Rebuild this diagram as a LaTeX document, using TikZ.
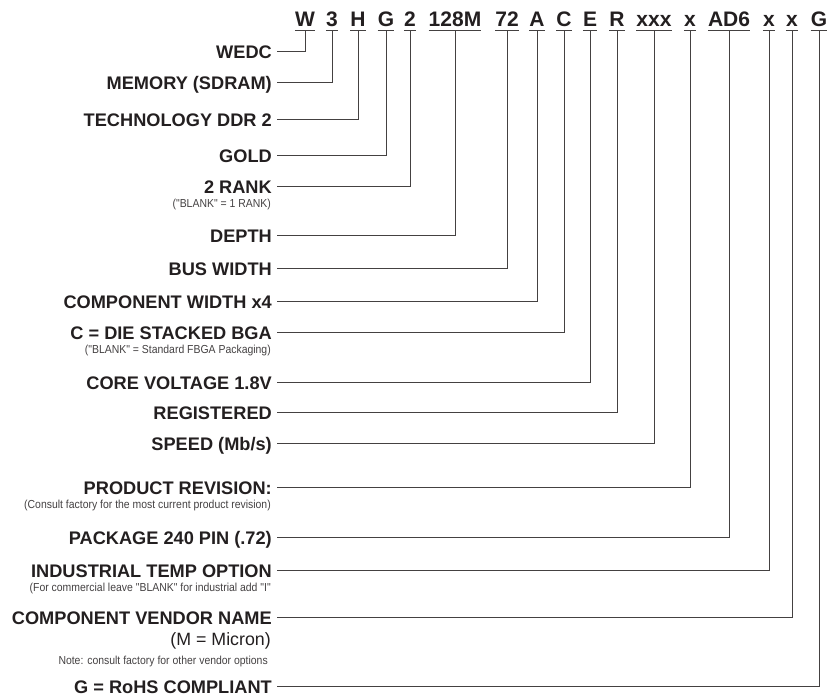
\documentclass[tikz,border=0pt]{standalone}
\usepackage{fontspec}
\setmainfont{Liberation Sans}
\newfontfamily\narrowfont[FakeStretch=0.9]{Liberation Sans}
\usetikzlibrary{calc}
\definecolor{ink}{HTML}{231F20}
\begin{document}
\begin{tikzpicture}[x=1pt,y=-1pt,
  hdr/.style={font=\fontsize{21}{21}\selectfont\bfseries, text=ink, anchor=base, inner sep=0pt},
  lbl/.style={font=\fontsize{18.2}{18}\selectfont\bfseries, text=ink, anchor=east,
              inner ysep=0pt, inner xsep=5pt, text height=15pt, text depth=0pt},
  sub/.style={font=\fontsize{11.6}{11}\selectfont\narrowfont, text=ink!85, anchor=base east, inner sep=0pt},
  mid/.style={font=\fontsize{17.8}{17}\selectfont, text=ink, anchor=base east, inner sep=0pt},
  ln/.style={draw=ink!85, line width=0.8pt}]
\useasboundingbox (0,0) rectangle (827,698);

% header code
\foreach \n/\x/\t in {a/305/W, b/332/3, c/358/H, d/386/G, e/410/2, f/455/128M, g/507/72,
  h/537/A, i/564/C, j/590/E, k/617/R, l/654/xxx, m/690/x, n/729/AD6, o/769/x, p/792/x, q/819/G}{
  \node[hdr] (h\n) at (\x,27) {\t};
  \draw[ln] ($(h\n.base west)+(0,3.5)$) -- ($(h\n.base east)+(0,3.5)$);
  \coordinate (u\n) at ($(h\n.base)+(0,3.5)$);
}

% labels
\node[lbl] (la) at (277,51)  {WEDC};
\node[lbl] (lb) at (277,82)  {MEMORY (SDRAM)};
\node[lbl] (lc) at (277,119) {TECHNOLOGY DDR 2};
\node[lbl] (ld) at (277,155) {GOLD};
\node[lbl] (le) at (277,186) {2 RANK};
\node[lbl] (lf) at (277,235) {DEPTH};
\node[lbl] (lg) at (277,268) {BUS WIDTH};
\node[lbl] (lh) at (277,301) {COMPONENT WIDTH x4};
\node[lbl] (li) at (277,332) {C = DIE STACKED BGA};
\node[lbl] (lj) at (277,382) {CORE VOLTAGE 1.8V};
\node[lbl] (lk) at (277,412) {REGISTERED};
\node[lbl] (ll) at (277,443) {SPEED (Mb/s)};
\node[lbl] (lm) at (277,487) {PRODUCT REVISION:};
\node[lbl] (ln) at (277,537) {PACKAGE 240 PIN (.72)};
\node[lbl] (lo) at (277,570) {INDUSTRIAL TEMP OPTION};
\node[lbl] (lp) at (277,617) {COMPONENT VENDOR NAME};
\node[lbl] (lq) at (277,686) {G = RoHS COMPLIANT};

% sub texts
\node[sub] (s1) at (271,207) {("BLANK" = 1 RANK)};
\node[sub] (s2) at (271,353) {("BLANK" = Standard FBGA Packaging)};
\node[sub] (s3) at (271,508) {(Consult factory for the most current product revision)};
\node[sub] (s4) at (271,591) {(For commercial leave "BLANK" for industrial add "I"};
\node[mid] (s5) at (271,645) {(M = Micron)};
\node[sub] (s6) at (268,664) {Note: consult factory for other vendor options};

% connectors
\foreach \n in {a,b,c,d,e,f,g,h,i,j,k,l,m,n,o,p,q}{
  \draw[ln] (u\n) |- (l\n.east);
}
\end{tikzpicture}
\end{document}
